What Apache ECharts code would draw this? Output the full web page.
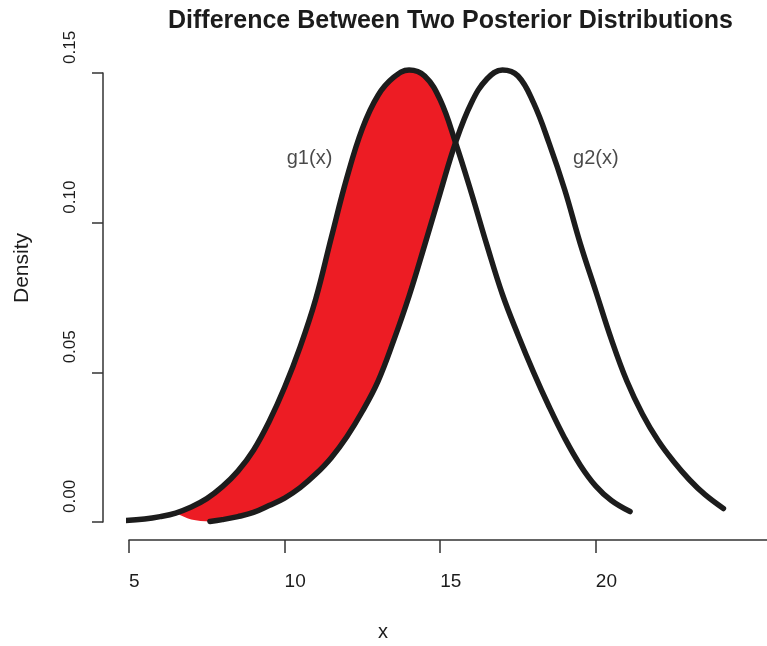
<!DOCTYPE html>
<html>
<head>
<meta charset="utf-8">
<script src="https://cdn.jsdelivr.net/npm/echarts@6/dist/echarts.min.js"></script>
<style>
html, body { margin: 0; padding: 0; background: #fff; }
#main { width: 767px; height: 646px; }
</style>
</head>
<body>
<div id="main"></div>
<script type="text/javascript">
// curve g1(x)
var g1X = [4.8, 5.5, 6.0, 6.5, 7.0, 7.5, 8.0, 8.5, 9.0, 9.5, 10.0, 10.5, 11.0, 11.5, 12.0, 12.5, 13.0, 13.5, 14.0,
           14.5, 15.0, 15.5, 16.0, 16.5, 17.0, 17.5, 18.0, 18.5, 19.0, 19.5, 20.0, 20.5, 21.1];
var g1Y = [0.0004, 0.0010, 0.0018, 0.0030, 0.0050, 0.0078, 0.0118, 0.0170, 0.0240, 0.0335, 0.0450, 0.0585, 0.0745,
           0.0950, 0.1150, 0.1315, 0.1425, 0.1485, 0.1510, 0.1490, 0.1410, 0.1265, 0.1100, 0.0925, 0.0760, 0.0625,
           0.0500, 0.0385, 0.0280, 0.0190, 0.0120, 0.0072, 0.0035];
// curve g2(x)
var g2X = [7.6, 8.0, 8.5, 9.0, 9.5, 10.0, 10.5, 11.0, 11.5, 12.0, 12.5, 13.0, 13.5, 14.0, 14.5, 15.0, 15.5, 16.0,
           16.5, 17.0, 17.5, 18.0, 18.5, 19.0, 19.5, 20.0, 20.5, 21.0, 21.5, 22.0, 22.5, 23.0, 23.5, 24.1];
var g2Y = [0.0002, 0.0008, 0.0018, 0.0032, 0.0055, 0.0080, 0.0115, 0.0160, 0.0215, 0.0285, 0.0370, 0.0470, 0.0605,
           0.0755, 0.0925, 0.1100, 0.1270, 0.1400, 0.1480, 0.1510, 0.1490, 0.1400, 0.1265, 0.1110, 0.0930, 0.0770,
           0.0610, 0.0470, 0.0360, 0.0272, 0.0202, 0.0142, 0.0092, 0.0045];
// shaded area: starts on g1 at fillStart, ends where the curves cross
var fillStart = 6.5;
var crossPt = [15.48, 0.1268];
var fillEdgeX = [6.5, 7.0, 7.6];        // lower edge left of where g2 is drawn
var fillEdgeY = [0.0030, 0.0008, 0.0002];
// labels
var curveNames = ['g1(x)', 'g2(x)'];
var nameX = [10.8, 20.0];
var nameY = [0.1213, 0.1213];
var xTicks = [5, 10, 15, 20];

function pairs(xs, ys) {
    var out = [];
    for (var i = 0; i < xs.length; i++) out.push([xs[i], ys[i]]);
    return out;
}

var font = "'Liberation Sans', Arial, sans-serif";
var ink = '#1c1c1c';

var myChart = echarts.init(document.getElementById('main'), null, {renderer: 'canvas'});
var option = {
    animation: false,
    backgroundColor: '#fff',
    grid: {left: 129, right: 0, top: 73, bottom: 124},
    xAxis: {
        type: 'value', min: 5, max: 25.5,
        offset: 18,
        axisLine: {show: true, onZero: false, lineStyle: {color: '#333', width: 1.5}},
        axisTick: {show: true, length: 13, lineStyle: {color: '#333', width: 1.5}, customValues: xTicks},
        axisLabel: {color: ink, fontSize: 19, fontFamily: font, margin: 42, align: 'left', verticalAlign: 'middle',
            customValues: xTicks},
        splitLine: {show: false}
    },
    yAxis: {
        type: 'value', min: 0, max: 0.15, interval: 0.05,
        offset: 26,
        axisLine: {show: true, lineStyle: {color: '#333', width: 1.5}},
        axisTick: {show: true, length: 11, lineStyle: {color: '#333', width: 1.5}},
        axisLabel: {color: ink, fontSize: 17, fontFamily: font, rotate: 90, margin: 33,
            align: 'left', verticalAlign: 'middle', padding: [0, 0, 0, 9],
            formatter: function (v) { return v.toFixed(2); }},
        splitLine: {show: false}
    },
    graphic: [
        {type: 'text', style: {text: 'Difference Between Two Posterior Distributions', x: 168, y: 21,
            textAlign: 'left', textVerticalAlign: 'middle', font: 'bold 25px ' + font, fill: ink}},
        {type: 'text', style: {text: 'x', x: 378, y: 632, textAlign: 'left', textVerticalAlign: 'middle',
            font: '20px ' + font, fill: ink}},
        {type: 'text', rotation: Math.PI / 2, x: 22, y: 268, style: {text: 'Density', x: 0, y: 0,
            textAlign: 'center', textVerticalAlign: 'middle', font: '21px ' + font, fill: ink}}
    ],
    series: [
        {
            type: 'custom',
            clip: false,
            data: [[fillStart, 0]],
            renderItem: function (params, api) {
                var pts = [];
                for (var i = 0; i < g1X.length; i++) {
                    if (g1X[i] >= fillStart && g1X[i] < crossPt[0]) pts.push(api.coord([g1X[i], g1Y[i]]));
                }
                pts.push(api.coord(crossPt));
                for (var j = g2X.length - 1; j >= 0; j--) {
                    if (g2X[j] < crossPt[0] && g2X[j] > fillEdgeX[fillEdgeX.length - 1]) pts.push(api.coord([g2X[j], g2Y[j]]));
                }
                for (var k = fillEdgeX.length - 1; k >= 0; k--) pts.push(api.coord([fillEdgeX[k], fillEdgeY[k]]));
                return {type: 'polygon', shape: {points: pts, smooth: 0.3}, style: {fill: '#ed1c24'}};
            },
            z: 1
        },
        {
            name: 'g1', type: 'line', data: pairs(g1X, g1Y), smooth: 0.4, symbol: 'none', clip: false,
            lineStyle: {color: ink, width: 5.5, cap: 'round', join: 'round'}, z: 3
        },
        {
            name: 'g2', type: 'line', data: pairs(g2X, g2Y), smooth: 0.4, symbol: 'none', clip: false,
            lineStyle: {color: ink, width: 5.5, cap: 'round', join: 'round'}, z: 3
        },
        {
            type: 'scatter', symbolSize: 0, clip: false, silent: true,
            data: curveNames.map(function (n, i) { return {value: [nameX[i], nameY[i]], name: n}; }),
            label: {show: true, position: 'inside', formatter: '{b}', color: ink, fontSize: 20, fontFamily: font},
            z: 4
        }
    ]
};
myChart.setOption(option);
</script>
</body>
</html>
